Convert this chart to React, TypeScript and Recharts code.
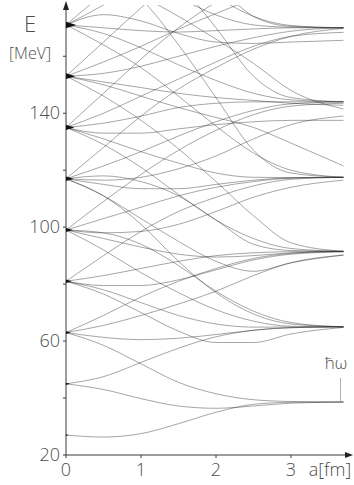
import React from 'react';
import { ComposedChart, Line, XAxis, YAxis, ReferenceDot, ReferenceLine } from 'recharts';

// separation a [fm] at which the levels were read
const aGrid = [0, 0.5, 1, 1.5, 2, 2.5, 3, 3.7];
// level energies at a = 0 [MeV]
const levelsAtZero = [27, 45, 63, 81, 99, 117, 135, 153, 171];
const xTicks = [0, 1, 2, 3];
const yTicks = [20, 40, 60, 80, 100, 120, 140, 160];
const yLabels = [20, 60, 100, 140];

// energy curves E(a), grouped by their level at a = 0
const from27 = [[27, 26.3, 27.5, 31, 35, 37.8, 38.5, 38.6]];
const from45 = [
  [45, 43, 39.8, 37.2, 36.4, 37.2, 38.2, 38.6],
  [45, 47.5, 52.5, 57.5, 61.5, 63.8, 64.7, 65],
];
const from63 = [
  [63, 58.5, 52, 45.5, 41.5, 39.4, 38.8, 38.6],
  [63, 61.3, 60.5, 61, 62.3, 63.8, 64.7, 65],
  [63, 69, 75.5, 81, 85.5, 89, 90.8, 91.5],
  [63, 65.5, 69, 73, 77.5, 83, 87.5, 90.2],
];
const from81 = [
  [81, 90, 98.5, 105.5, 110.5, 114.5, 116.8, 117.5],
  [81, 83, 85.5, 88, 90, 91, 91.4, 91.5],
  [81, 79.5, 79.5, 81.5, 85, 88.5, 90.5, 91.3],
  [81, 76.5, 70, 63.5, 59.5, 59.5, 62.5, 64.8],
  [81, 78, 73.5, 69, 66, 64.9, 64.9, 65],
];
const from99 = [
  [99, 109, 118.5, 127, 134, 139.5, 142.5, 143.5],
  [99, 103, 107, 111, 114, 116, 117.2, 117.5],
  [99, 98, 98.5, 101, 105.5, 110.5, 114, 116.5],
  [99, 96, 93, 90.5, 89.5, 90, 91, 91.5],
  [99, 98, 94, 86.5, 77.5, 70.5, 66.5, 65],
  [99, 92, 84, 77, 71, 67, 65.2, 65],
];
const from117 = [
  [117, 128, 139, 148.5, 156, 162.5, 167, 169.8],
  [117, 121.5, 126.5, 132, 137, 141, 143.3, 144],
  [117, 116.5, 117.5, 120.5, 125, 131, 136, 139],
  [117, 115, 113.5, 113.5, 115, 116.5, 117.3, 117.5],
  [117, 118, 116, 111, 102.5, 94, 91.8, 91.5],
  [117, 111, 103, 95, 88, 84.5, 87.5, 90.2],
  [117, 111, 101, 88, 77, 69.5, 66, 65],
];
const from135 = [
  [135, 147, 159, 170, 179, 186, 191, 194],
  [135, 140, 146, 152, 158, 163.5, 167, 168.4],
  [135, 136.5, 139, 142, 143.5, 144, 144, 144],
  [135, 133, 133, 134.5, 136, 137, 137.5, 137.5],
  [135, 131, 126.5, 122.5, 119, 117.5, 117.4, 117.5],
  [135, 129, 121, 111.5, 102.5, 96, 92.5, 91.5],
];
const from153 = [
  [153, 165, 177, 188, 196, 201, 204, 205],
  [153, 158, 163.5, 169.5, 175, 180, 183, 185],
  [153, 154, 156.5, 160, 163.5, 166.5, 168.8, 170],
  [153, 151, 149, 147, 145.5, 144.5, 143.5, 142.8],
  [153, 150, 146, 142, 138.5, 135, 129.5, 121.5],
  [153, 146, 137.5, 127.5, 116, 104, 94.5, 91.5],
];
const from171 = [
  [171, 182, 192, 200, 206, 210, 213, 215],
  [171, 178, 186, 194, 200, 204, 206, 207],
  [171, 174.6, 172.4, 168, 165, 164.5, 165, 165.6],
  [171, 170, 169, 168.5, 169, 169.6, 170, 170],
  [171, 168, 163, 157, 151.5, 147, 144.7, 144],
  [171, 164, 156, 146, 135.5, 126, 120, 117.5],
];
const from189 = [
  [189, 187, 180, 164, 145.5, 127, 119, 117.5],
  [189, 189, 186, 180.5, 174.5, 171, 170.2, 170],
  [189, 186, 181, 174, 166, 157.5, 148, 141.5],
];
const from207 = [
  [207, 206, 200, 186, 170, 153, 145.5, 144],
  [207, 204, 198, 190, 181, 174, 170.8, 170],
];
const from225 = [[225, 222, 214, 201, 186, 174, 170.5, 170]];

const curves = [
  ...from27, ...from45, ...from63, ...from81, ...from99, ...from117,
  ...from135, ...from153, ...from171, ...from189, ...from207, ...from225,
];

const data = aGrid.map((a, i) => {
  const row: Record<string, number> = { a };
  curves.forEach((c, k) => { row['c' + k] = c[i]; });
  return row;
});

const FONT = '"Open Sans", "Liberation Sans", sans-serif';
const INK = '#3a3a3a';
const TXT = '#4d4d4d';

const YTick = (props: any) => {
  const { x, y, payload } = props;
  if (!yLabels.includes(payload.value)) return <g />;
  return (
    <text x={x} y={y} dy={6} textAnchor="end" fill={TXT} fontSize={18} fontFamily={FONT} fontWeight={300}>
      {payload.value}
    </text>
  );
};

const Blob = (idx: number) => (props: any) => {
  const { cx, cy } = props;
  if (cx == null || cy == null) return <g />;
  const len = 3 + idx * 0.9;
  const h = 0.8 + idx * 0.3;
  return <path d={`M${cx},${cy - h} L${cx + len},${cy} L${cx},${cy + h} Z`} fill="#111" />;
};

const UpArrow = (props: any) => {
  const { cx, cy } = props;
  return <path d={`M${cx - 3},${cy + 5} L${cx},${cy - 4} L${cx + 3},${cy + 5} Z`} fill="#222" />;
};
const RightArrow = (props: any) => {
  const { cx, cy } = props;
  return <path d={`M${cx - 6},${cy - 3} L${cx + 2},${cy} L${cx - 6},${cy + 3} Z`} fill="#222" />;
};

export default function App() {
  return (
    <div style={{ position: 'absolute', left: 0, top: 0, width: 354, height: 485, background: '#fff' }}>
      <ComposedChart width={354} height={485} data={data} margin={{ top: 5, right: 3, left: 0, bottom: 0 }}>
        <XAxis
          type="number"
          dataKey="a"
          domain={[0, 3.8]}
          ticks={xTicks}
          allowDataOverflow
          height={30}
          tickSize={3}
          tickMargin={5}
          stroke={INK}
          tickLine={{ stroke: INK }}
          tick={{ fill: TXT, fontSize: 18, fontFamily: FONT, fontWeight: 300 }}
        />
        <YAxis
          type="number"
          domain={[20, 178]}
          ticks={yTicks}
          interval={0}
          allowDataOverflow
          width={66}
          tickSize={3}
          tickMargin={3}
          stroke={INK}
          tickLine={{ stroke: INK }}
          tick={YTick}
        />
        {curves.map((_, k) => (
          <Line
            key={k}
            dataKey={'c' + k}
            type="monotone"
            dot={false}
            activeDot={false}
            stroke="#2a2a2a"
            strokeWidth={0.7}
            strokeOpacity={0.6}
            isAnimationActive={false}
          />
        ))}
        {levelsAtZero.map((e, i) => (
          <ReferenceDot key={'b' + e} x={0} y={e} shape={Blob(i)} ifOverflow="visible" />
        ))}
        <ReferenceLine
          segment={[{ x: 3.66, y: 38.6 }, { x: 3.66, y: 47 }]}
          stroke="#999"
          strokeWidth={0.8}
        />
        <ReferenceDot x={0} y={178} shape={UpArrow} ifOverflow="visible" />
        <ReferenceDot x={3.8} y={20} shape={RightArrow} ifOverflow="visible" />
      </ComposedChart>
      <svg width={354} height={485} style={{ position: 'absolute', left: 0, top: 0, pointerEvents: 'none' }}>
        <text x={30} y={32} textAnchor="middle" fill={TXT} fontSize={22} fontFamily={FONT} fontWeight={300}>E</text>
        <text x={30} y={59} textAnchor="middle" fill={TXT} fontSize={16} fontFamily={FONT} fontWeight={300}>[MeV]</text>
        <text x={330} y={476} textAnchor="middle" fill={TXT} fontSize={18} fontFamily={FONT} fontWeight={300}>a[fm]</text>
        <text x={336} y={369} textAnchor="middle" fill={TXT} fontSize={17} fontFamily={FONT} fontWeight={300}>ħω</text>
      </svg>
    </div>
  );
}
